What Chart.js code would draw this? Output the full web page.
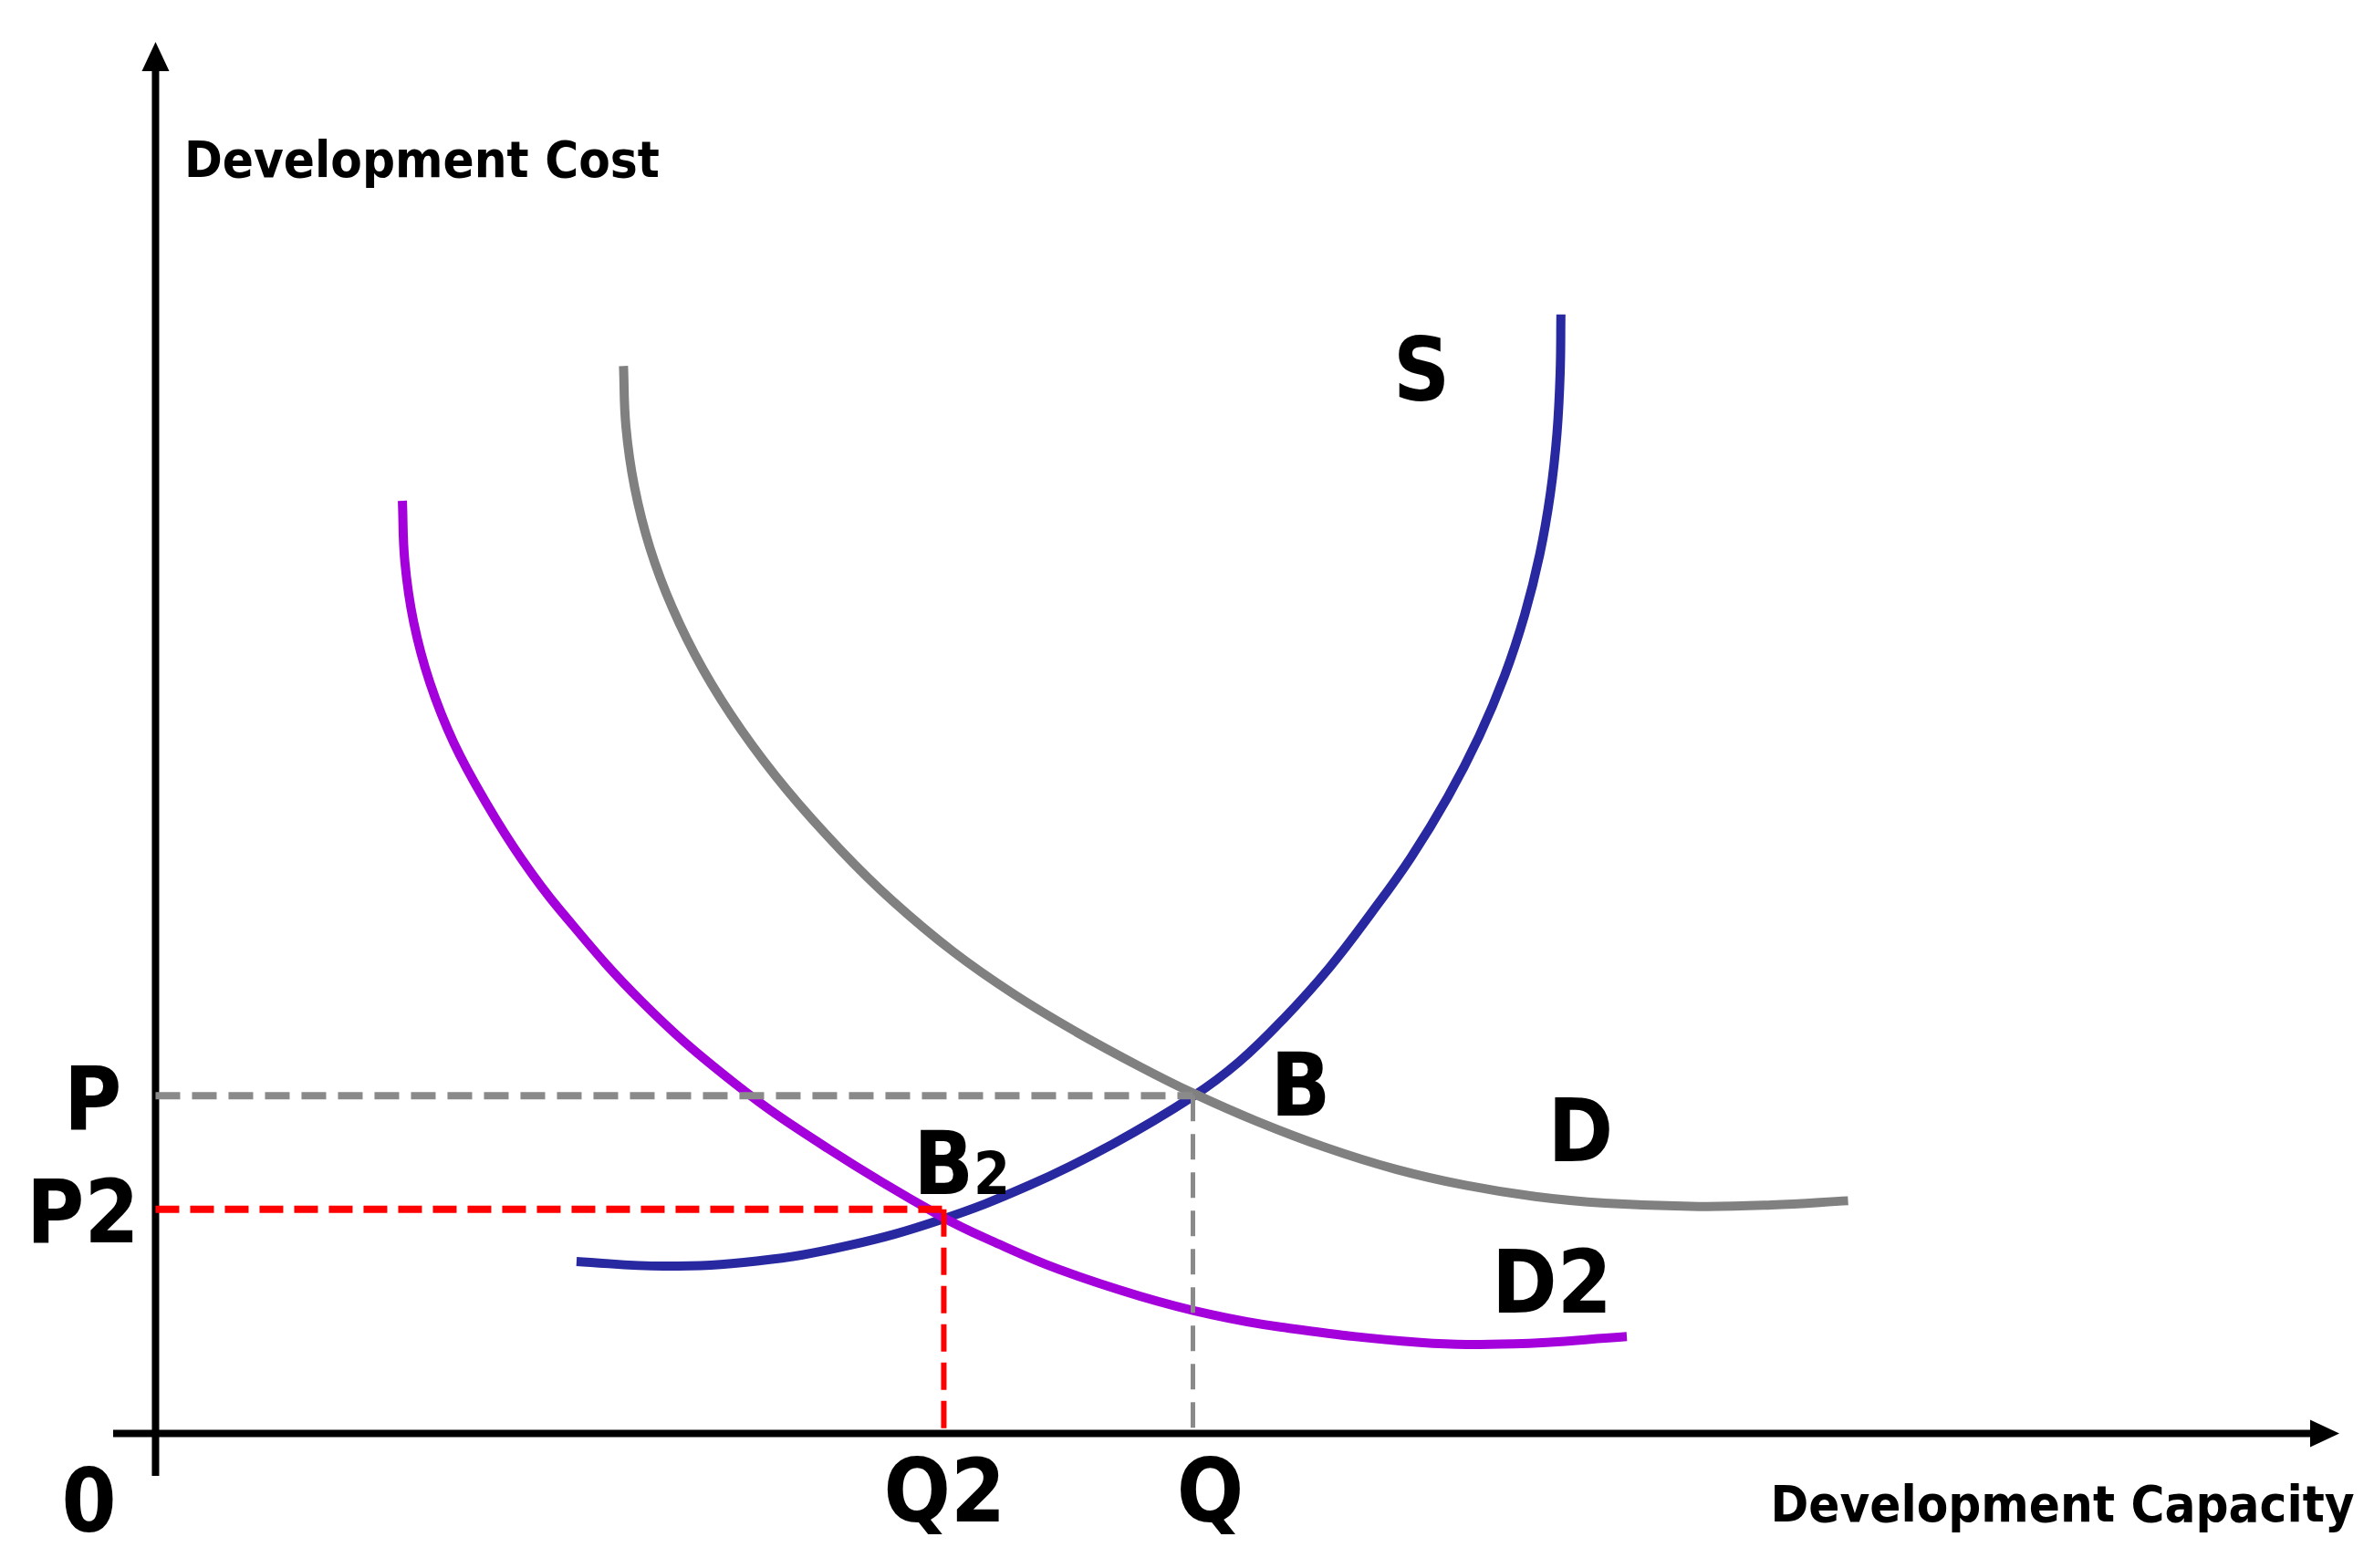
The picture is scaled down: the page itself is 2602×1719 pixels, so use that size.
<!DOCTYPE html>
<html lang="en">
<head>
    <meta charset="UTF-8">
    <title>Development Cost vs Development Capacity</title>
    <script src="https://cdn.jsdelivr.net/npm/chart.js"></script>
    <style>
        body { margin: 0; background: #fff; }
    </style>
</head>
<body>
    <canvas id="marketChart" width="2602" height="1719"></canvas>

    <script>
        // Supply curve S
        const supplyX = [27.8, 33.6, 39.7, 45.7, 51.8, 57.7, 63.2, 68.5, 71.5, 74.5, 77.5, 80.3, 82.9, 85.34, 87.4, 89.08, 90.4, 91.4, 92.1, 92.54, 92.75, 92.8];
        const supplyY = [11.36, 11.05, 11.39, 12.4, 14.1, 16.39, 19.11, 22.26, 24.5, 27.4, 30.75, 34.4, 38.05, 42.05, 46.05, 50.05, 54.05, 58.05, 62.05, 66.05, 70.05, 73.9];

        // Demand curve D
        const demandX = [30.9, 31.06, 31.63, 32.64, 34.14, 36.13, 38.65, 41.69, 45.27, 48.64, 52.7, 56.7, 60.8, 65.0, 68.5, 72.7, 77.3, 81.9, 86.5, 91.1, 95.7, 101.9, 106.7, 111.76];
        const demandY = [70.5, 66.5, 62.5, 58.5, 54.5, 50.5, 46.5, 42.5, 38.5, 35.2, 31.8, 29.0, 26.52, 24.23, 22.48, 20.63, 18.88, 17.45, 16.39, 15.65, 15.21, 14.99, 15.09, 15.37];

        // Shifted demand curve D2
        const demand2X = [16.3, 16.46, 17.04, 18.11, 19.7, 21.86, 24.2, 26.7, 32.1, 38.2, 44.4, 51.8, 55.7, 59.7, 65.0, 69.7, 74.25, 83.5, 89.7, 97.15];
        const demand2Y = [61.6, 57.6, 53.6, 49.6, 45.6, 41.6, 37.9, 34.58, 28.53, 23.16, 18.82, 14.38, 12.5, 10.82, 9.07, 7.85, 7.03, 6.01, 5.92, 6.4];

        // Equilibrium points (B2, B) and their tick labels
        const qValues = [52.05, 68.5];
        const pValues = [14.8, 22.3];
        const qLabels = ['Q2', 'Q'];
        const pLabels = ['P2', 'P'];

        const xTitle = 'Development Capacity';
        const yTitle = 'Development Cost';

        const toPoints = (xs, ys) => xs.map((x, i) => ({ x: x, y: ys[i] }));

        const FONT = '"DejaVu Sans Condensed", "DejaVu Sans", sans-serif';

        // axes with arrows, labels and titles
        const diagramPlugin = {
            id: 'diagram',
            beforeDatasetsDraw(chart) {
                const { ctx, scales: { x, y } } = chart;
                const x0 = x.getPixelForValue(0);
                const y0 = y.getPixelForValue(0);
                ctx.save();
                ctx.strokeStyle = '#000';
                ctx.fillStyle = '#000';
                ctx.lineWidth = 8;
                // y axis
                ctx.beginPath();
                ctx.moveTo(x0, y.bottom);
                ctx.lineTo(x0, y.top + 20);
                ctx.stroke();
                ctx.beginPath();
                ctx.moveTo(x0, y.top);
                ctx.lineTo(x0 - 15, y.top + 32);
                ctx.lineTo(x0 + 15, y.top + 32);
                ctx.closePath();
                ctx.fill();
                // x axis
                ctx.beginPath();
                ctx.moveTo(x.left, y0);
                ctx.lineTo(x.right - 20, y0);
                ctx.stroke();
                ctx.beginPath();
                ctx.moveTo(x.right, y0);
                ctx.lineTo(x.right - 32, y0 - 15);
                ctx.lineTo(x.right - 32, y0 + 15);
                ctx.closePath();
                ctx.fill();
                ctx.restore();
            },
            afterDatasetsDraw(chart) {
                const { ctx, scales: { x, y } } = chart;
                const px = v => x.getPixelForValue(v);
                const py = v => y.getPixelForValue(v);
                ctx.save();
                ctx.fillStyle = '#000';
                ctx.textBaseline = 'alphabetic';

                // axis titles
                ctx.font = 'bold 56px ' + FONT;
                ctx.textAlign = 'left';
                ctx.fillText(yTitle, px(1.9), py(83.0));
                ctx.textAlign = 'right';
                ctx.fillText(xTitle, px(145.2), py(-5.8));

                // big labels
                ctx.font = 'bold 96px ' + FONT;
                ctx.textAlign = 'center';
                ctx.fillText(pLabels[1], px(-4.15), py(20.1));
                ctx.fillText(pLabels[0], px(-4.8), py(12.6));
                ctx.fillText('0', px(-4.4), py(-6.5));
                ctx.fillText(qLabels[0], px(52.1), py(-5.8));
                ctx.fillText(qLabels[1], px(69.65), py(-5.8));
                ctx.fillText('S', px(83.6), py(68.2));
                ctx.fillText('B', px(75.6), py(21.0));
                ctx.fillText('D', px(94.1), py(18.0));
                ctx.fillText('D2', px(92.2), py(8.0));

                // B2 with small 2
                ctx.textAlign = 'left';
                ctx.fillText('B', px(50.05), py(15.8));
                const bw = ctx.measureText('B').width;
                ctx.font = 'bold 64px ' + FONT;
                ctx.fillText('2', px(50.05) + bw, py(15.8));
                ctx.restore();
            }
        };

        const curve = (label, xs, ys, color) => ({
            label: label,
            data: toPoints(xs, ys),
            showLine: true,
            borderColor: color,
            borderWidth: 10,
            tension: 0.4,
            pointRadius: 0,
            fill: false
        });

        const guide = (label, pts, color, width, dash) => ({
            label: label,
            data: pts,
            showLine: true,
            borderColor: color,
            borderWidth: width,
            borderDash: dash,
            tension: 0,
            pointRadius: 0,
            fill: false
        });

        new Chart(document.getElementById('marketChart'), {
            type: 'scatter',
            data: {
                datasets: [
                    guide('P', [{ x: 0, y: pValues[1] }, { x: qValues[1], y: pValues[1] }], '#8a8a8a', 8, [27, 13]),
                    guide('Q', [{ x: qValues[1], y: pValues[1] }, { x: qValues[1], y: 0 }], '#8a8a8a', 5, [28, 14]),
                    guide('P2', [{ x: 0, y: pValues[0] }, { x: qValues[0], y: pValues[0] }], '#ff0000', 8, [26, 12]),
                    guide('Q2', [{ x: qValues[0], y: pValues[0] }, { x: qValues[0], y: 0 }], '#ff0000', 6, [30, 12]),
                    curve('D', demandX, demandY, '#808080'),
                    curve('D2', demand2X, demand2Y, '#a400dc'),
                    curve('S', supplyX, supplyY, '#2828a0')
                ]
            },
            options: {
                responsive: false,
                devicePixelRatio: 1,
                animation: false,
                layout: { padding: { left: 124, right: 38, top: 46, bottom: 101 } },
                plugins: {
                    legend: { display: false },
                    tooltip: { enabled: false }
                },
                scales: {
                    x: { type: 'linear', display: false, min: -2.8, max: 144.2 },
                    y: { type: 'linear', display: false, min: -2.8, max: 91.9 }
                }
            },
            plugins: [diagramPlugin]
        });
    </script>
</body>
</html>
